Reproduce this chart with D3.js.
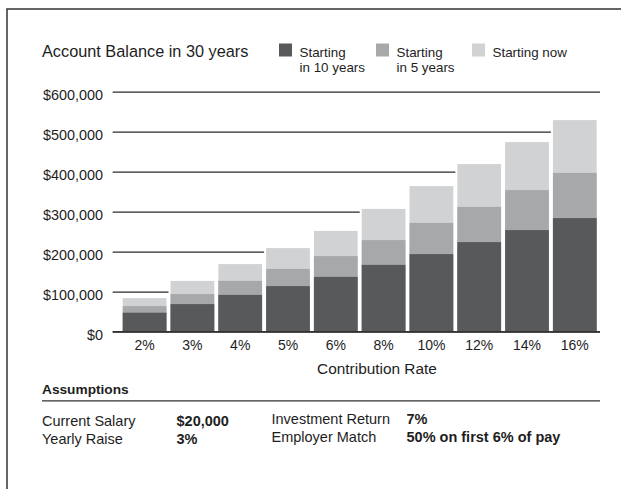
<!DOCTYPE html>
<html>
<head>
<meta charset="utf-8">
<script src="https://cdn.jsdelivr.net/npm/d3@7/dist/d3.min.js"></script>
<style>
  html, body { margin: 0; padding: 0; background: #fff; }
  svg { display: block; font-family: "Liberation Sans", Arial, Helvetica, sans-serif; }
</style>
</head>
<body>
<script>
// Contribution rates along the x axis
const categories = ["2%", "3%", "4%", "5%", "6%", "8%", "10%", "12%", "14%", "16%"];

// Account balance after 30 years, by when saving starts
const startingNow     = [84000, 127000, 169000, 209000, 252000, 307000, 364000, 419000, 474000, 529000];
const startingIn5     = [64000,  94000, 127000, 157000, 189000, 229000, 272000, 312000, 354000, 397000];
const startingIn10    = [47500,  69000,  92000, 114000, 137000, 167000, 194000, 224000, 254000, 284000];

const yTicks = [0, 100000, 200000, 300000, 400000, 500000, 600000];

const seriesNames  = ["Starting now", "Starting in 5 years", "Starting in 10 years"];
const seriesColors = ["#d1d2d4", "#a7a8aa", "#58595b"];

const assumptionsLeft  = [["Current Salary", "$20,000"], ["Yearly Raise", "3%"]];
const assumptionsRight = [["Investment Return", "7%"], ["Employer Match", "50% on first 6% of pay"]];

const W = 621, H = 489;
const svg = d3.select("body").append("svg").attr("width", W).attr("height", H);

// outer frame (runs off the right and bottom edges)
svg.append("rect")
  .attr("x", 7).attr("y", 9).attr("width", 700).attr("height", 600)
  .attr("fill", "none").attr("stroke", "#333").attr("stroke-width", 1.5);

const ink = "#1e1e1e";
const plotLeft = 112.7, plotRight = 600;

const x = d3.scaleBand().domain(categories).range([120.7, 598.7])
  .paddingInner(0.085).paddingOuter(0.0425);
const y = d3.scaleLinear().domain([0, 600000]).range([331.7, 91.7]);

// title
svg.append("text").attr("x", 42).attr("y", 56.5)
  .attr("font-size", 16.3).attr("fill", ink).text("Account Balance in 30 years");

// legend
const legendItems = [
  { color: seriesColors[2], lines: ["Starting", "in 10 years"], x: 279 },
  { color: seriesColors[1], lines: ["Starting", "in 5 years"], x: 376 },
  { color: seriesColors[0], lines: ["Starting now"], x: 472 }
];
const lg = svg.append("g").selectAll("g").data(legendItems).join("g")
  .attr("transform", d => `translate(${d.x},0)`);
lg.append("rect").attr("x", 0).attr("y", 43.5).attr("width", 13).attr("height", 13)
  .attr("fill", d => d.color);
lg.each(function (d) {
  const t = d3.select(this).append("text").attr("font-size", 13.4).attr("fill", ink);
  d.lines.forEach((line, i) => {
    t.append("tspan").attr("x", 20.5).attr("y", 57 + i * 14.8).text(line);
  });
});

// y axis with gridlines
const yAxis = d3.axisLeft(y).tickValues(yTicks)
  .tickSize(plotRight - plotLeft).tickPadding(9.7)
  .tickFormat(d => "$" + d3.format(",")(d));
const gy = svg.append("g").attr("transform", `translate(${plotRight},0)`).call(yAxis);
gy.select(".domain").remove();
gy.selectAll(".tick line").attr("stroke", "#2a2a2a").attr("stroke-width", 1.2);
gy.selectAll(".tick text").attr("font-size", 14.4).attr("fill", ink)
  .attr("font-family", "Liberation Sans, Arial, sans-serif").attr("dy", "0.55em");

// white backing so gridlines stop at each column, including the gaps
const gap = x.step() - x.bandwidth();
svg.append("g").selectAll("rect").data(categories).join("rect")
  .attr("x", d => x(d) - gap / 2)
  .attr("width", x.bandwidth() + gap + 1.5)
  .attr("y", (d, i) => y(startingNow[i]))
  .attr("height", (d, i) => y(0) - y(startingNow[i]))
  .attr("fill", "#fff");

// balances drawn tallest first so they read as a stack
[startingNow, startingIn5, startingIn10].forEach((vals, s) => {
  svg.append("g").selectAll("rect").data(categories).join("rect")
    .attr("x", d => x(d))
    .attr("width", x.bandwidth())
    .attr("y", (d, i) => y(vals[i]))
    .attr("height", (d, i) => y(0) - y(vals[i]))
    .attr("fill", seriesColors[s]);
});

// baseline
svg.append("line").attr("x1", plotLeft).attr("x2", plotRight)
  .attr("y1", y(0)).attr("y2", y(0))
  .attr("stroke", "#333").attr("stroke-width", 1.5);

// x axis labels
const xAxis = d3.axisBottom(x).tickSize(0).tickPadding(8.3);
const gx = svg.append("g").attr("transform", `translate(0,${y(0)})`).call(xAxis);
gx.select(".domain").remove();
gx.selectAll(".tick text").attr("font-size", 14).attr("fill", ink)
  .attr("font-family", "Liberation Sans, Arial, sans-serif");

svg.append("text").attr("x", 377).attr("y", 373.5).attr("text-anchor", "middle")
  .attr("font-size", 15.4).attr("fill", ink).text("Contribution Rate");

// assumptions block
svg.append("text").attr("x", 42).attr("y", 393.5)
  .attr("font-size", 13.7).attr("font-weight", "bold").attr("fill", ink).text("Assumptions");
svg.append("line").attr("x1", 42).attr("x2", 600).attr("y1", 400.8).attr("y2", 400.8)
  .attr("stroke", "#333").attr("stroke-width", 1.3);

function assumptionRows(rows, xLabel, xValue, y0) {
  const g = svg.append("g").selectAll("g").data(rows).join("g");
  g.append("text").attr("x", xLabel).attr("y", (d, i) => y0 + i * 18)
    .attr("font-size", 14.5).attr("fill", ink).text(d => d[0]);
  g.append("text").attr("x", xValue).attr("y", (d, i) => y0 + i * 18)
    .attr("font-size", 14.5).attr("font-weight", "bold").attr("fill", ink).text(d => d[1]);
}
assumptionRows(assumptionsLeft, 42, 176.5, 426);
assumptionRows(assumptionsRight, 271.5, 406.5, 423.5);
</script>
</body>
</html>
